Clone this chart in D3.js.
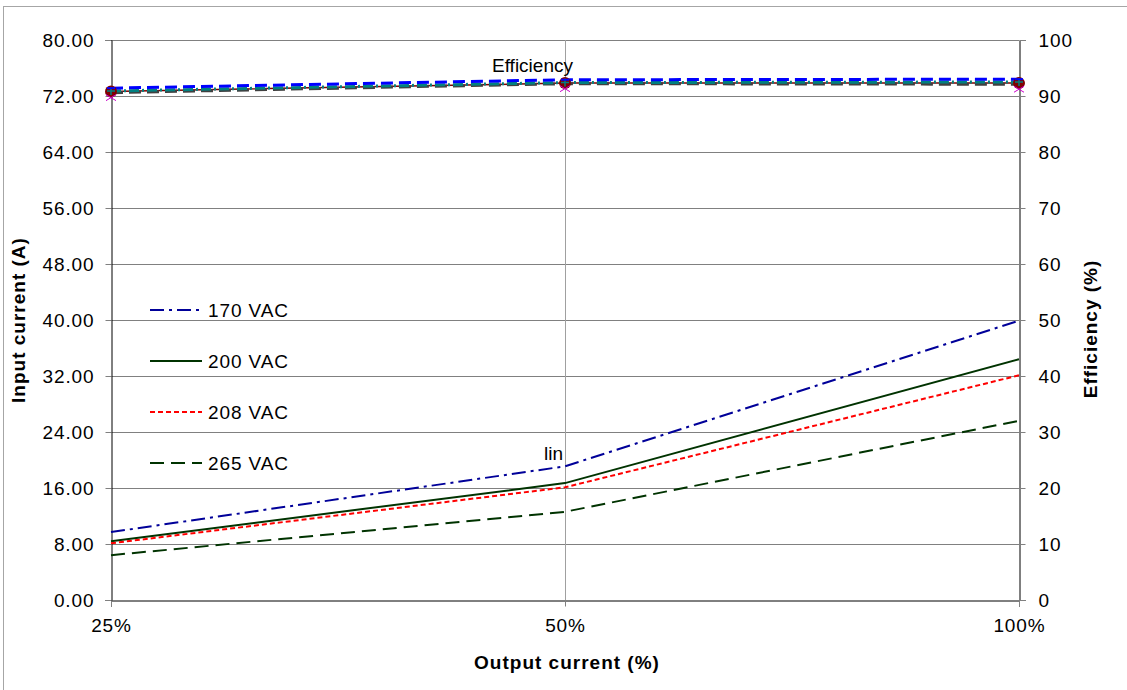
<!DOCTYPE html>
<html>
<head>
<meta charset="utf-8">
<script src="https://cdn.jsdelivr.net/npm/d3@7"></script>
<style>
  body { margin: 0; background: #fff; }
  text { font-family: "Liberation Sans", Arial, sans-serif; }
</style>
</head>
<body>
<div id="chart"></div>
<script>
// Data
const categories = ['25%', '50%', '100%'];

const voltages = ['170 VAC', '200 VAC', '208 VAC', '265 VAC'];
const current170 = [9.7, 19.1, 39.9];
const current200 = [8.4, 16.7, 34.4];
const current208 = [8.1, 16.1, 32.1];
const current265 = [6.4, 12.6, 25.6];

const eff170 = [91.4, 92.9, 93.0];
const eff200 = [90.6, 92.2, 92.1];
const eff208 = [90.9, 92.4, 92.5];
const eff265 = [90.8, 92.3, 92.3];

const leftTicks = [0, 8, 16, 24, 32, 40, 48, 56, 64, 72, 80];
const rightTicks = [0, 10, 20, 30, 40, 50, 60, 70, 80, 90, 100];

const width = 1127, height = 690;
const margin = { top: 40, right: 108, bottom: 90, left: 111 };
const FS = 19, LS = '0.9px';

const svg = d3.select('#chart').append('svg')
    .attr('width', width)
    .attr('height', height);

// outer chart border
svg.append('rect')
    .attr('x', 3.5).attr('y', 6.5)
    .attr('width', width + 10).attr('height', height + 10)
    .attr('fill', 'none').attr('stroke', '#a6a6a6');

const x = d3.scalePoint().domain(categories).range([margin.left, width - margin.right]);
const yL = d3.scaleLinear().domain([0, 80]).range([height - margin.bottom, margin.top]);
const yR = d3.scaleLinear().domain([0, 100]).range([height - margin.bottom, margin.top]);

// Gridlines
svg.append('g')
    .selectAll('line')
    .data(leftTicks.slice(1))
    .enter().append('line')
    .attr('x1', margin.left).attr('x2', width - margin.right)
    .attr('y1', d => Math.round(yL(d)) + 0.5).attr('y2', d => Math.round(yL(d)) + 0.5)
    .attr('stroke', '#808080').attr('stroke-width', 1);

svg.append('line')
    .attr('x1', Math.round(x('50%')) + 0.5).attr('x2', Math.round(x('50%')) + 0.5)
    .attr('y1', margin.top).attr('y2', height - margin.bottom)
    .attr('stroke', '#a0a0a0');

// Axes
const fmt = d3.format('.2f');
const leftAxis = svg.append('g')
    .attr('transform', `translate(${margin.left + 0.5},0)`)
    .call(d3.axisLeft(yL).tickValues(leftTicks).tickFormat(fmt).tickSize(6).tickPadding(11));
const rightAxis = svg.append('g')
    .attr('transform', `translate(${width - margin.right + 0.5},0)`)
    .call(d3.axisRight(yR).tickValues(rightTicks).tickSize(6).tickPadding(13));
const bottomAxis = svg.append('g')
    .attr('transform', `translate(0,${height - margin.bottom + 0.5})`)
    .call(d3.axisBottom(x).tickSize(6).tickPadding(12));

[leftAxis, rightAxis, bottomAxis].forEach(g => {
    g.select('.domain').attr('stroke', '#000');
    g.selectAll('.tick line').attr('stroke', '#808080');
    g.selectAll('.tick text').attr('font-size', FS).attr('fill', '#000')
        .attr('letter-spacing', LS)
        .attr('font-family', '"Liberation Sans", Arial, sans-serif');
});

// Axis titles
svg.append('text')
    .attr('x', x('50%') + 2).attr('y', 669)
    .attr('text-anchor', 'middle')
    .attr('font-size', FS).attr('font-weight', 'bold').attr('letter-spacing', '1px')
    .text('Output current (%)');
svg.append('text')
    .attr('transform', `translate(25,320) rotate(-90)`)
    .attr('text-anchor', 'middle')
    .attr('font-size', FS).attr('font-weight', 'bold').attr('letter-spacing', '1px')
    .text('Input current (A)');
svg.append('text')
    .attr('transform', `translate(1097,329) rotate(-90)`)
    .attr('text-anchor', 'middle')
    .attr('font-size', FS).attr('font-weight', 'bold').attr('letter-spacing', '1px')
    .text('Efficiency (%)');

// Input current lines
const currentSeries = [
    { name: voltages[0], values: current170, color: '#000099', dash: '14,5,3,5' },
    { name: voltages[1], values: current200, color: '#003300', dash: null },
    { name: voltages[2], values: current208, color: '#ff0000', dash: '5,3' },
    { name: voltages[3], values: current265, color: '#003300', dash: '14,7' }
];

const lineL = d3.line().x((d, i) => x(categories[i])).y(d => yL(d));
const lineR = d3.line().x((d, i) => x(categories[i])).y(d => yR(d));

currentSeries.forEach(s => {
    svg.append('path')
        .datum(s.values)
        .attr('d', lineL)
        .attr('fill', 'none')
        .attr('stroke', s.color)
        .attr('stroke-width', 2)
        .attr('stroke-dasharray', s.dash);
});

// Efficiency lines
const effSeries = [
    { values: eff265, color: '#800000', dash: null, marker: 'circle' },
    { values: eff200, color: '#404040', dash: '12,6', marker: 'x' },
    { values: eff208, color: '#008080', dash: '10,3,2,3', marker: 'plus' },
    { values: eff170, color: '#0000ff', dash: '12,6', marker: 'cross' }
];

effSeries.forEach(s => {
    svg.append('path')
        .datum(s.values)
        .attr('d', lineR)
        .attr('fill', 'none')
        .attr('stroke', s.color)
        .attr('stroke-width', s.color === '#800000' ? 1.5 : 3)
        .attr('stroke-dasharray', s.dash);
});

// Markers
effSeries.forEach(s => {
    const g = svg.append('g');
    s.values.forEach((v, i) => {
        const cx = x(categories[i]), cy = yR(v);
        if (s.marker === 'circle') {
            g.append('circle').attr('cx', cx).attr('cy', cy).attr('r', 6).attr('fill', '#800000');
        } else if (s.marker === 'x') {
            g.append('path')
                .attr('d', `M${cx - 5},${cy + 2}L${cx + 5},${cy + 8}M${cx + 5},${cy + 2}L${cx - 5},${cy + 8}`)
                .attr('stroke', '#cc00cc').attr('stroke-width', 1);
        } else if (s.marker === 'plus') {
            g.append('path')
                .attr('d', `M${cx - 4},${cy}L${cx + 4},${cy}M${cx},${cy - 4}L${cx},${cy + 4}`)
                .attr('stroke', '#008080').attr('stroke-width', 1.5);
        } else {
            g.append('path')
                .attr('d', `M${cx - 4},${cy}L${cx + 4},${cy}`)
                .attr('stroke', '#0000ff').attr('stroke-width', 2);
        }
    });
});

// Annotations
svg.append('text')
    .attr('x', 492).attr('y', 72)
    .attr('font-family', '"Open Sans", Carlito, sans-serif')
    .attr('font-size', 19)
    .text('Efficiency');
svg.append('text')
    .attr('x', 544).attr('y', 460)
    .attr('font-family', '"Open Sans", Carlito, sans-serif')
    .attr('font-size', 19)
    .text('lin');

// Legend
const legend = svg.append('g').attr('transform', 'translate(150,0)');
const legendY = [310, 361, 412, 463];
currentSeries.forEach((s, i) => {
    legend.append('line')
        .attr('x1', 0).attr('x2', 52)
        .attr('y1', legendY[i]).attr('y2', legendY[i])
        .attr('stroke', s.color)
        .attr('stroke-width', 2)
        .attr('stroke-dasharray', s.dash);
    legend.append('text')
        .attr('x', 58).attr('y', legendY[i] + 7)
        .attr('font-size', FS).attr('letter-spacing', LS)
        .text(s.name);
});
</script>
</body>
</html>
